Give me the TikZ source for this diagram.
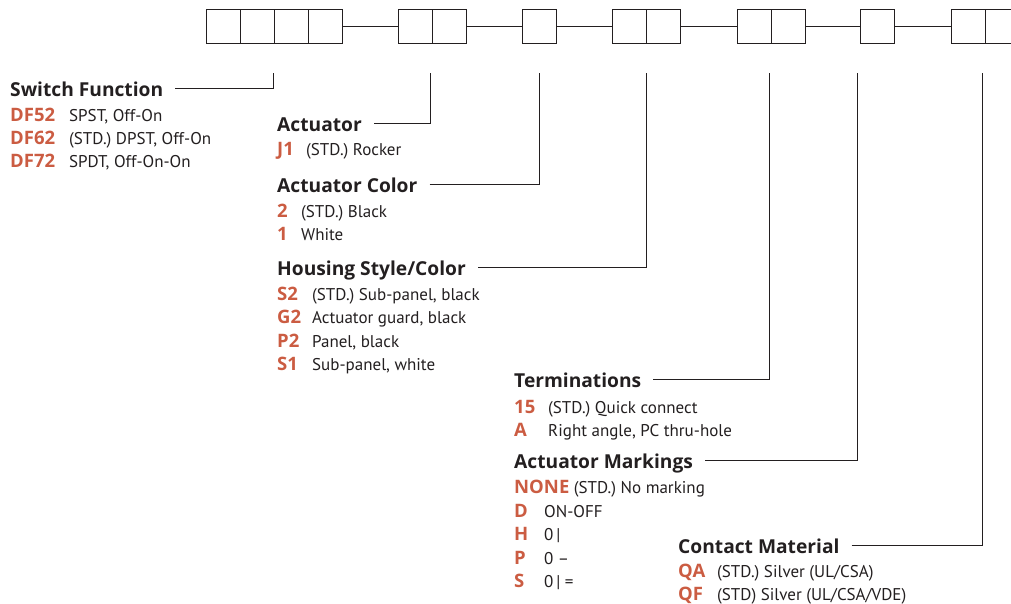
\documentclass[tikz,border=0pt]{standalone}
\usepackage{fontspec}
\setmainfont{PT Sans}
\newfontfamily\headfont{Open Sans}
\usepackage{xcolor}
\usepackage{tikz}

\definecolor{codeorange}{RGB}{203,92,66}
\definecolor{inkgray}{RGB}{35,31,32}
\newcommand{\code}[1]{{\headfont\bfseries\fontsize{18.5}{21}\selectfont\color{codeorange}#1}}
\newcommand{\optline}[3]{\makebox[#1][l]{\code{#2}}#3}

\begin{document}
\begin{tikzpicture}[
          x=1pt, y=-1pt,
          every node/.style={font=\fontsize{17}{20}\selectfont, inner sep=0pt, text=inkgray},
          cell/.style={draw=inkgray, line width=1.1pt, minimum size=34pt, anchor=north west},
          head/.style={font=\headfont\bfseries\fontsize{19.2}{22}\selectfont, anchor=base west},
          item/.style={anchor=base west},
          lead/.style={draw=inkgray, line width=0.9pt},
        ]
          \useasboundingbox (0,0) rectangle (1011,603);

          %% part number boxes
          \foreach \x [count=\i] in {206,240,274,308} \node[cell] (sf\i) at (\x,9) {};
          \foreach \x [count=\i] in {398,432} \node[cell] (act\i) at (\x,9) {};
          \node[cell] (col1) at (522,9) {};
          \foreach \x [count=\i] in {612,646} \node[cell] (hs\i) at (\x,9) {};
          \foreach \x [count=\i] in {737,771} \node[cell] (term\i) at (\x,9) {};
          \node[cell] (mark1) at (860,9) {};
          \foreach \x [count=\i] in {951,985} \node[cell] (cm\i) at (\x,9) {};

          %% links between groups
          \draw[lead, line width=1.1pt] (sf4.east)   -- (act1.west);
          \draw[lead, line width=1.1pt] (act2.east)  -- (col1.west);
          \draw[lead, line width=1.1pt] (col1.east)  -- (hs1.west);
          \draw[lead, line width=1.1pt] (hs2.east)   -- (term1.west);
          \draw[lead, line width=1.1pt] (term2.east) -- (mark1.west);
          \draw[lead, line width=1.1pt] (mark1.east) -- (cm1.west);

          %% tap points below the boxes
          \coordinate (sf-tap)   at (273,73);
          \coordinate (act-tap)  at (430,73);
          \coordinate (col-tap)  at (539,73);
          \coordinate (hs-tap)   at (646,73);
          \coordinate (term-tap) at (769,73);
          \coordinate (mark-tap) at (857,73);
          \coordinate (cm-tap)   at (982,73);

          %% switch function
          \node[head] (sf-head) at (10,96) {Switch Function};
          \node[item] (sf-o1) at (10,121) {\optline{59pt}{DF52}{SPST, Off-On}};
          \node[item] (sf-o2) at (10,144) {\optline{59pt}{DF62}{(STD.) DPST, Off-On}};
          \node[item] (sf-o3) at (10,167) {\optline{59pt}{DF72}{SPDT, Off-On-On}};

          %% actuator
          \node[head] (act-head) at (277,131) {Actuator};
          \node[item] (act-o1) at (277,155) {\optline{29pt}{J1}{(STD.) Rocker}};

          %% actuator color
          \node[head] (col-head) at (277,192) {Actuator Color};
          \node[item] (col-o1) at (277,217) {\optline{24pt}{2}{(STD.) Black}};
          \node[item] (col-o2) at (277,240) {\optline{24pt}{1}{White}};

          %% housing style/color
          \node[head] (hs-head) at (277,275) {Housing Style/Color};
          \node[item] (hs-o1) at (277,300) {\optline{35pt}{S2}{(STD.) Sub-panel, black}};
          \node[item] (hs-o2) at (277,323) {\optline{35pt}{G2}{Actuator guard, black}};
          \node[item] (hs-o3) at (277,347) {\optline{35pt}{P2}{Panel, black}};
          \node[item] (hs-o4) at (277,370) {\optline{35pt}{S1}{Sub-panel, white}};

          %% terminations
          \node[head] (term-head) at (514,387) {Terminations};
          \node[item] (term-o1) at (514,413) {\optline{34pt}{15}{(STD.) Quick connect}};
          \node[item] (term-o2) at (514,436) {\optline{34pt}{A}{Right angle, PC thru-hole}};

          %% actuator markings
          \node[head] (mark-head) at (514,468) {Actuator Markings};
          \node[item] (mark-o1) at (514,493) {\code{NONE} (STD.) No marking};
          \node[item] (mark-o2) at (514,517) {\optline{30pt}{D}{ON-OFF}};
          \node[item] (mark-o3) at (514,540) {\optline{30pt}{H}{0\,|}};
          \node[item] (mark-o4) at (514,564) {\optline{30pt}{P}{0 –}};
          \node[item] (mark-o5) at (514,587) {\optline{30pt}{S}{0\,| =}};

          %% contact material
          \node[head] (cm-head) at (678,553) {Contact Material};
          \node[item] (cm-o1) at (678,577) {\optline{39pt}{QA}{(STD.) Silver (UL/CSA)}};
          \node[item] (cm-o2) at (678,600) {\optline{39pt}{QF}{(STD) Silver (UL/CSA/VDE)}};

          %% leader lines from headings up to the boxes
          \draw[lead] ([shift={(12,-8)}]sf-head.base east)   -| (sf-tap);
          \draw[lead] ([shift={(12,-8)}]act-head.base east)  -| (act-tap);
          \draw[lead] ([shift={(12,-8)}]col-head.base east)  -| (col-tap);
          \draw[lead] ([shift={(12,-8)}]hs-head.base east)   -| (hs-tap);
          \draw[lead] ([shift={(12,-8)}]term-head.base east) -| (term-tap);
          \draw[lead] ([shift={(12,-8)}]mark-head.base east) -| (mark-tap);
          \draw[lead] ([shift={(12,-8)}]cm-head.base east)   -| (cm-tap);
        \end{tikzpicture}
\end{document}
